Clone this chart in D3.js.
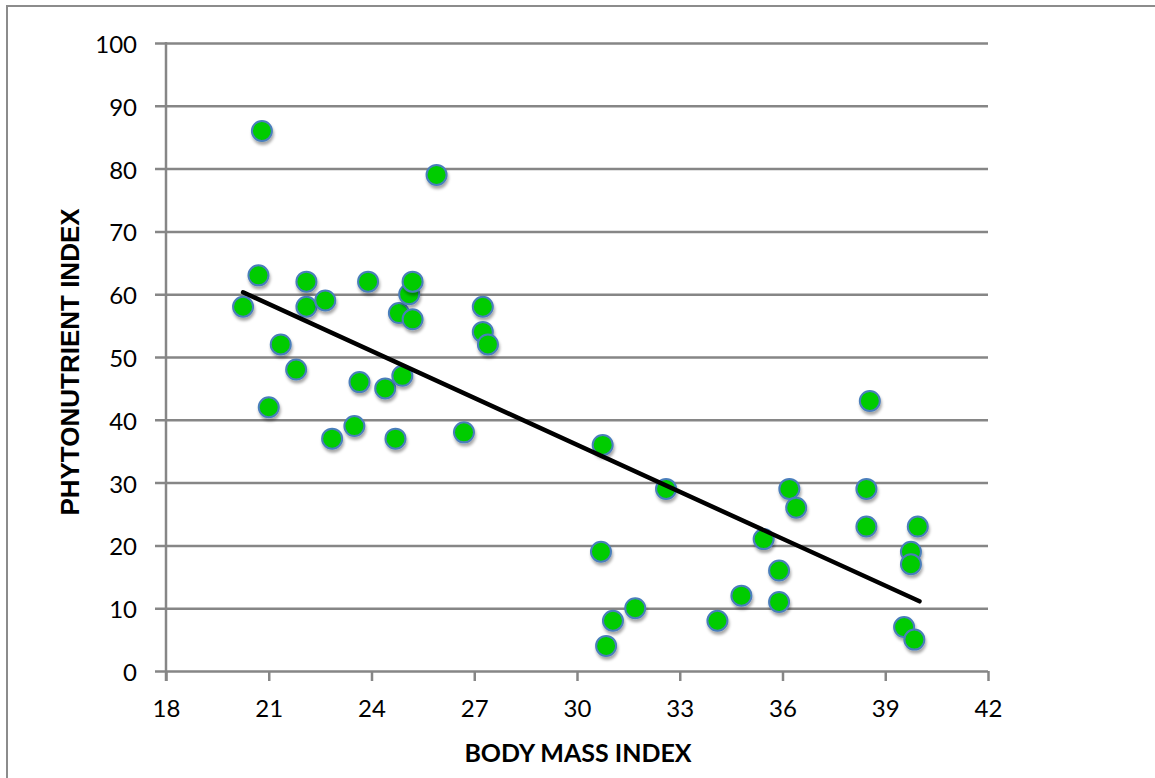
<!DOCTYPE html>
<html>
<head>
<meta charset="utf-8">
<script src="https://cdn.jsdelivr.net/npm/d3@7"></script>
<style>
    body { margin: 0; background: #fff; }
    #chart_view { width: 1155px; height: 778px; }
</style>
</head>
<body>
<div id="chart_view"></div>
<script>
// body mass index vs phytonutrient index
const bmi = [20.25, 20.8, 20.7, 21.0, 21.35, 21.8, 22.1, 22.1, 22.65, 22.85,
    23.5, 23.65, 23.9, 24.4, 24.7, 24.9, 24.8, 25.1, 25.2, 25.2,
    25.9, 26.7, 27.25, 27.25, 27.4, 30.75, 30.7, 30.85, 31.05, 31.7,
    32.6, 34.1, 34.8, 35.45, 35.9, 35.9, 36.2, 36.4, 38.55, 38.45,
    38.45, 39.95, 39.75, 39.75, 39.55, 39.85];
const phytonutrient = [58, 86, 63, 42, 52, 48, 62, 58, 59, 37,
    39, 46, 62, 45, 37, 47, 57, 60, 62, 56,
    79, 38, 58, 54, 52, 36, 19, 4, 8, 10,
    29, 8, 12, 21, 16, 11, 29, 26, 43, 29,
    23, 23, 19, 17, 7, 5];

// linear trend line end points
const trendX = [20.25, 40.0];
const trendY = [60.3, 11.1];

const xTicks = [18, 21, 24, 27, 30, 33, 36, 39, 42];
const yTicks = [0, 10, 20, 30, 40, 50, 60, 70, 80, 90, 100];

const xTitle = "BODY MASS INDEX";
const yTitle = "PHYTONUTRIENT INDEX";

const width = 1155;
const height = 778;
const margin = { 'left': 166, 'right': 167, 'top': 43, 'bottom': 107 };

const svg = d3.select('#chart_view')
    .append('svg')
    .attr('width', width)
    .attr('height', height);

const defs = svg.append('defs');
const shadow = defs.append('filter')
    .attr('id', 'marker_shadow')
    .attr('x', '-50%').attr('y', '-50%')
    .attr('width', '200%').attr('height', '200%');
shadow.append('feDropShadow')
    .attr('dx', 1).attr('dy', 3)
    .attr('stdDeviation', 1.8)
    .attr('flood-color', '#000')
    .attr('flood-opacity', 0.35);

//outer chart border (only left and top show in the picture)
svg.append('rect')
    .attr('x', 7).attr('y', 6)
    .attr('width', width + 20).attr('height', height + 20)
    .attr('fill', 'none')
    .attr('stroke', '#8c8c8c')
    .attr('stroke-width', 2);

const x_axis = d3.scaleLinear()
    .domain([18, 42])
    .range([margin.left, width - margin.right]);

const y_axis = d3.scaleLinear()
    .domain([0, 100])
    .range([height - margin.bottom, margin.top]);

const chart = svg.append('g');

//horizontal gridlines with the little tick stub on the left
chart.append('g')
    .attr('transform', 'translate(' + margin.left + ',0)')
    .call(d3.axisLeft(y_axis)
        .tickValues(yTicks)
        .tickSize(-(x_axis.range()[1] - x_axis.range()[0]))
        .tickFormat(''))
    .call(g => g.select('.domain').remove())
    .call(g => g.selectAll('line')
        .attr('x1', -11)
        .attr('stroke', '#868686')
        .attr('stroke-width', 2.5));

//y axis labels
chart.append('g')
    .selectAll('text')
    .data(yTicks)
    .enter()
    .append('text')
    .attr('x', 137)
    .attr('y', d => y_axis(d) + 10)
    .attr('text-anchor', 'end')
    .style('font-family', 'Lato, sans-serif')
    .style('font-size', '24px')
    .style('fill', '#000')
    .text(d => d);

//vertical axis line
chart.append('line')
    .attr('x1', margin.left).attr('x2', margin.left)
    .attr('y1', y_axis(100) - 1).attr('y2', y_axis(0) + 10)
    .attr('stroke', '#868686')
    .attr('stroke-width', 2.5);

//x ticks and labels
const xAxisG = chart.append('g')
    .attr('transform', 'translate(0,' + y_axis(0) + ')')
    .call(d3.axisBottom(x_axis).tickValues(xTicks).tickSize(10).tickPadding(19))
    .call(g => g.select('.domain').remove());
xAxisG.selectAll('line')
    .attr('stroke', '#868686')
    .attr('stroke-width', 2.5);
xAxisG.selectAll('text')
    .style('font-family', 'Lato, sans-serif')
    .style('font-size', '24px')
    .style('fill', '#000');

//axis titles
chart.append('text')
    .attr('x', (x_axis(18) + x_axis(42)) / 2 + 1)
    .attr('y', 762)
    .attr('text-anchor', 'middle')
    .style('font-family', 'Lato, sans-serif')
    .style('font-weight', 'bold')
    .style('font-size', '25px')
    .text(xTitle);

chart.append('text')
    .attr('transform', 'translate(79,' + ((y_axis(0) + y_axis(100)) / 2 + 5) + ') rotate(-90)')
    .attr('text-anchor', 'middle')
    .style('font-family', '"Liberation Sans", Arial, sans-serif')
    .style('font-weight', 'bold')
    .style('font-size', '26px')
    .text(yTitle);

//scatter points
const points = bmi.map((d, i) => ({ 'x': d, 'y': phytonutrient[i] }));
chart.append('g')
    .selectAll('.bmi_point')
    .data(points)
    .enter()
    .append('circle')
    .attr('class', 'bmi_point')
    .attr('cx', d => x_axis(d.x))
    .attr('cy', d => y_axis(d.y))
    .attr('r', 10)
    .attr('fill', '#00cc00')
    .attr('stroke', '#4a7ebb')
    .attr('stroke-width', 2)
    .attr('filter', 'url(#marker_shadow)');

//trend line
const trendFunc = d3.line()
    .x(d => x_axis(d[0]))
    .y(d => y_axis(d[1]));

chart.append('path')
    .attr('d', trendFunc(trendX.map((d, i) => [d, trendY[i]])))
    .attr('stroke', '#000')
    .attr('stroke-width', 4.5)
    .attr('stroke-linecap', 'round')
    .attr('fill', 'none');
</script>
</body>
</html>
